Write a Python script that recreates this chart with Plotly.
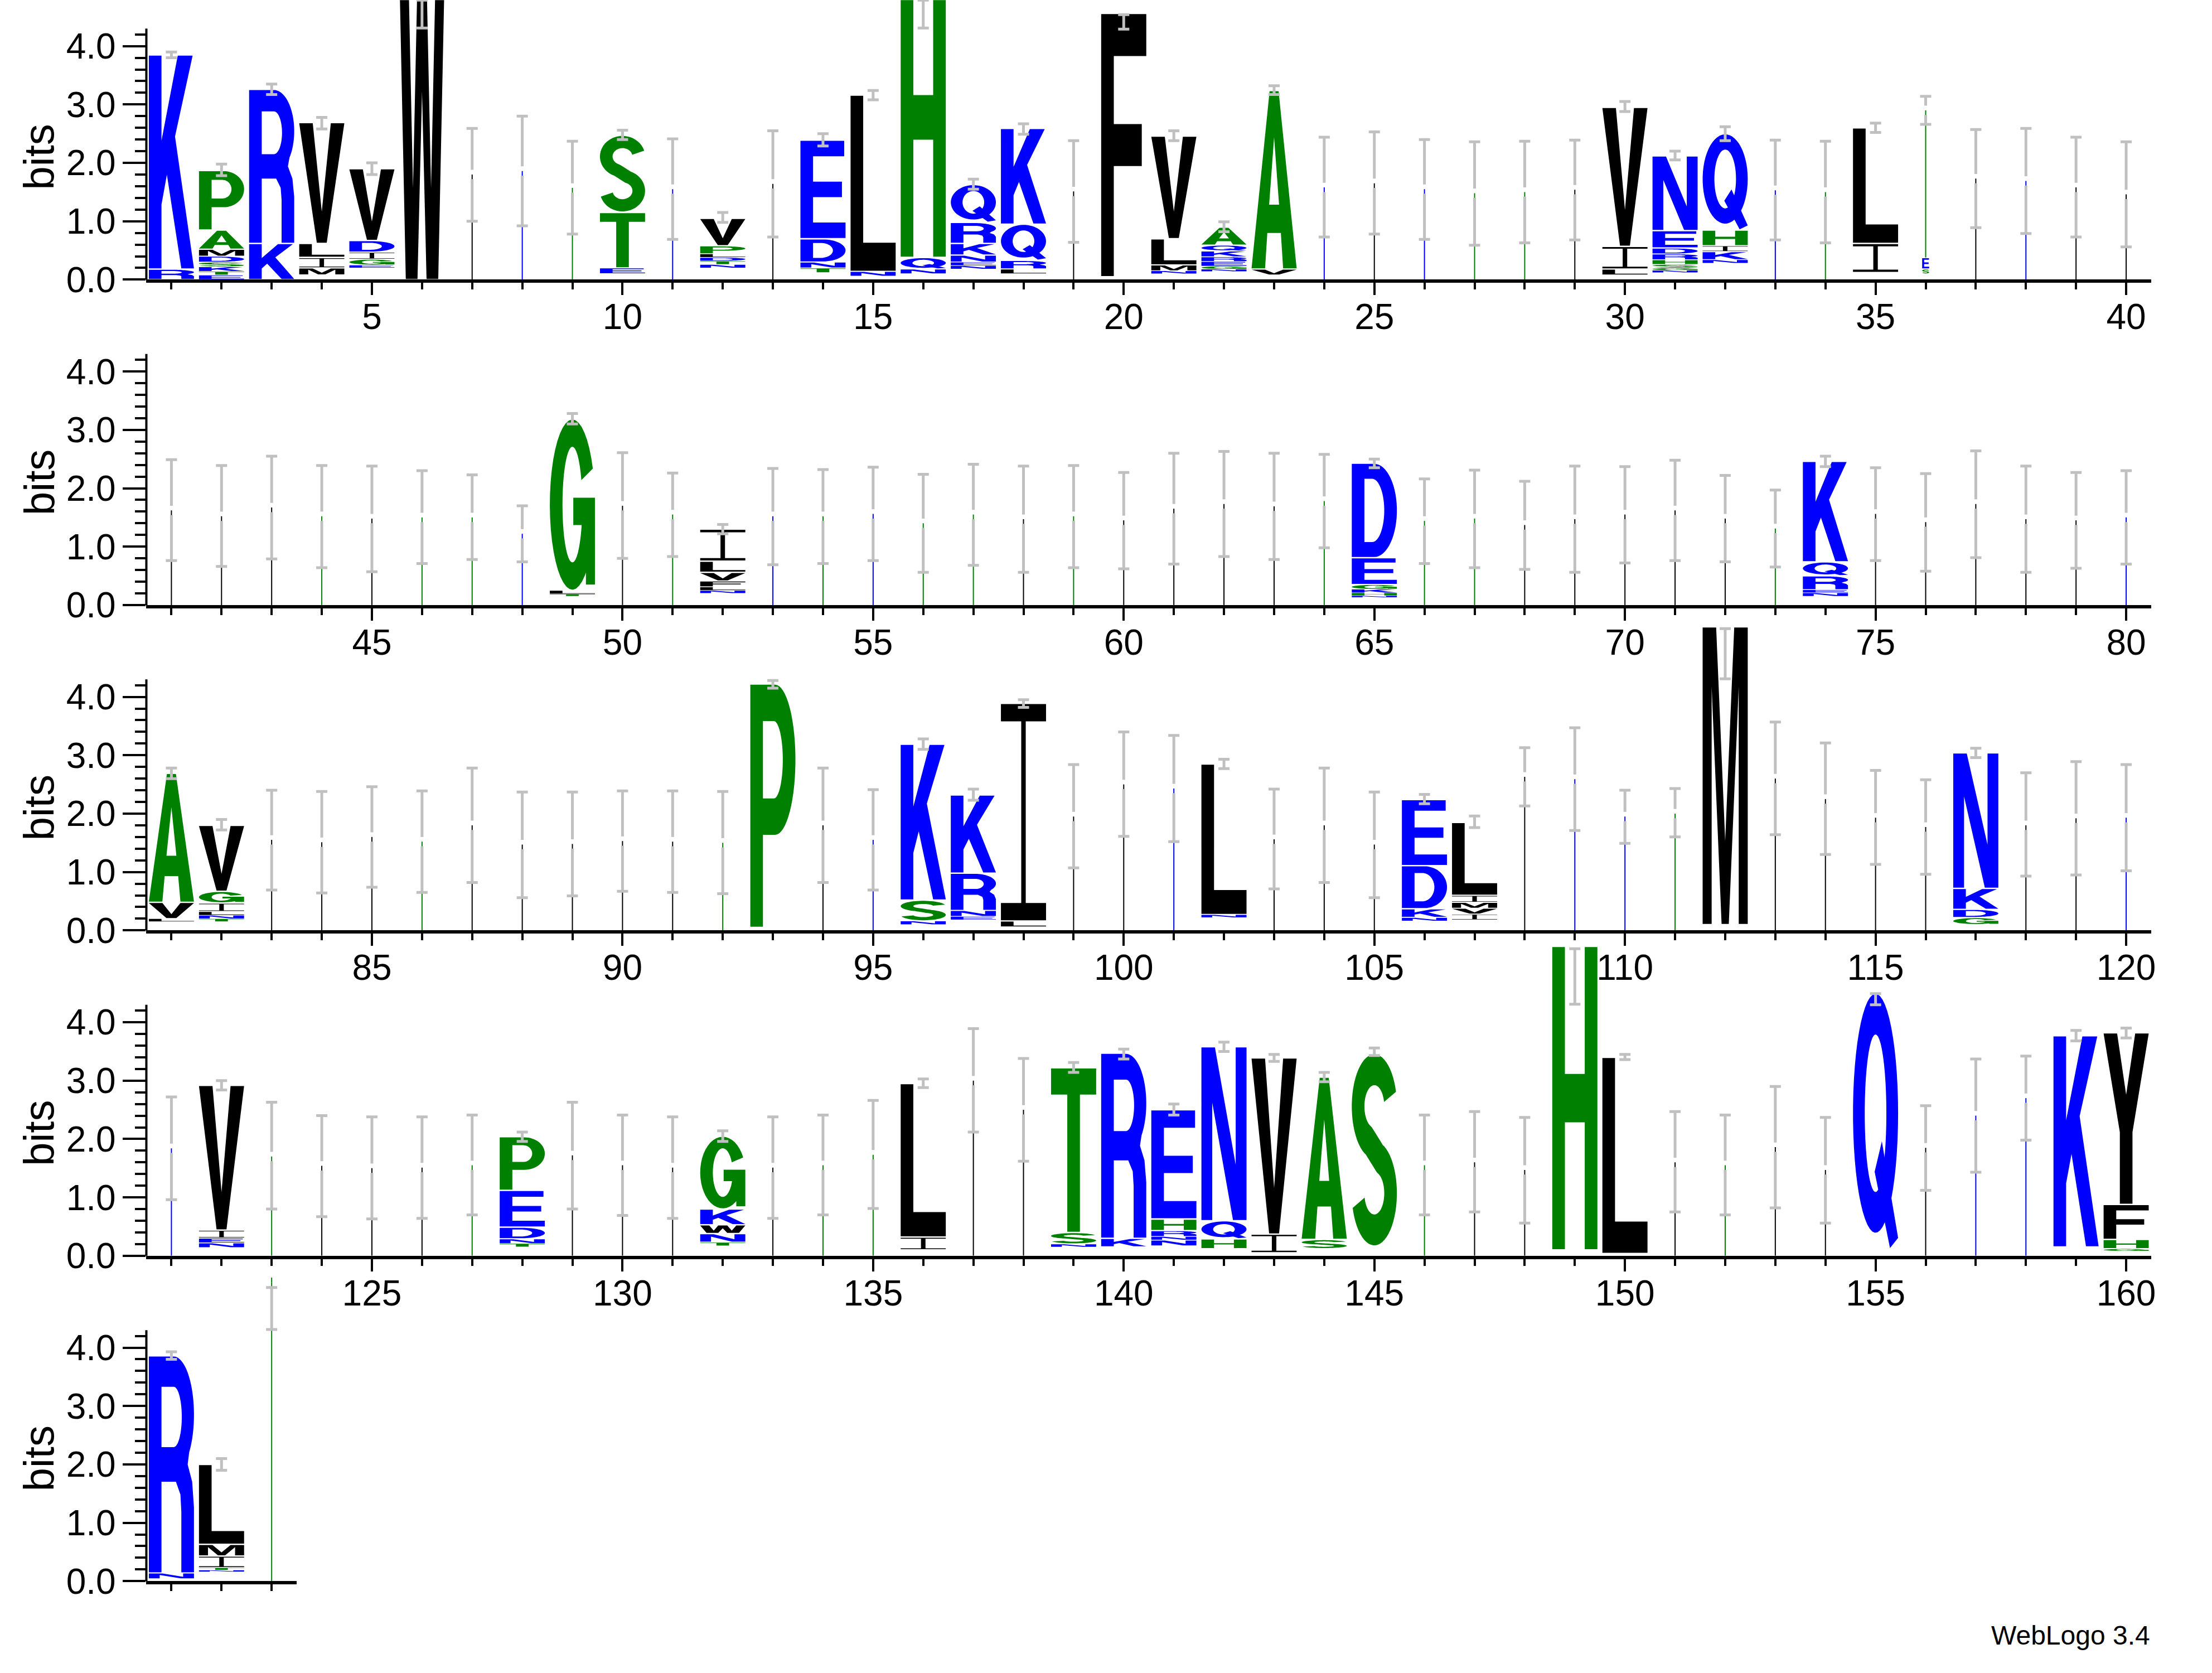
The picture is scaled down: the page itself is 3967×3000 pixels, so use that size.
import numpy as np
import plotly.graph_objects as go

# ---------------- data ----------------
# stack letters bottom -> top ('.' = blank space of tiny, invisible letters)
letters_r1 = ["RK", "ETKSDMAP", "KR", ".MILV", ".EGIDV", "W", "", "", "", ".ETS",
              "", ".NTDLPV", "", ".TNDE", ".NL", ".NQH", ".NENKRQ", ".LRQK", "", ".F",
              ".NMLV", ".NGERKQA", ".VA", "", "", "", "", "", "", ".LIV",
              ".NGSHRDEN", ".NKIHQ", "", "", ".IL", ".SE", "", "", "", ""]
heights_r1 = [[0.18, 3.67], [0.08, 0.06, 0.08, 0.08, 0.10, 0.12, 0.33, 1.02], [0.62, 2.64],
              [0.08, 0.12, 0.18, 0.24, 2.07], [0.2, 0.05, 0.1, 0.12, 0.2, 1.23], [5.2], [], [], [],
              [0.1, 0.1, 0.95, 1.33], [], [0.2, 0.06, 0.06, 0.06, 0.06, 0.14, 0.47], [],
              [0.12, 0.08, 0.1, 0.4, 1.69], [0.06, 0.08, 3.02], [0.1, 0.08, 0.2, 4.8],
              [0.18, 0.06, 0.06, 0.12, 0.2, 0.36, 0.65], [0.1, 0.08, 0.15, 0.62, 1.64], [],
              [0.05, 4.51], [0.1, 0.05, 0.1, 0.45, 1.76], [0.14, 0.04, 0.05, 0.08, 0.08, 0.1, 0.1, 0.31],
              [0.08, 0.1, 3.06], [], [], [], [], [], [], [0.08, 0.1, 0.39, 2.38],
              [0.12, 0.04, 0.04, 0.06, 0.08, 0.1, 0.1, 0.3, 1.28], [0.28, 0.06, 0.14, 0.1, 0.27, 1.65],
              [], [], [0.12, 0.5, 1.98], [0.1, 0.08, 0.2], [], [], [], []]
thincol_r1 = "......kbg.b.k.....k....bkbggk...bg.gkbkk"
thinh_r1 = [0, 0, 0, 0, 0, 0, 1.8, 1.86, 1.57, 0, 1.55, 0, 1.64, 0, 0, 0, 0, 0, 1.51, 0,
            0, 0, 0, 1.58, 1.65, 1.55, 1.48, 1.5, 1.54, 0, 0, 0, 1.53, 1.5, 0, 2.9, 1.73, 1.69, 1.58, 1.46]
errlo_r1 = [3.80, 1.78, 3.17, 2.58, 1.80, 4.31, 1.00, 0.92, 0.78, 2.40, 0.69, 0.98, 0.73, 2.29, 3.08,
            4.31, 1.55, 2.49, 0.64, 4.29, 2.38, 0.82, 3.17, 0.73, 0.78, 0.69, 0.59, 0.63, 0.68, 2.88,
            2.05, 2.38, 0.68, 0.63, 2.52, 2.66, 0.89, 0.79, 0.73, 0.56]
errhi_r1 = [3.90, 1.98, 3.35, 2.78, 2.00, 5.20, 2.59, 2.80, 2.37, 2.56, 2.41, 1.15, 2.55, 2.50, 3.24,
            5.20, 1.72, 2.67, 2.38, 4.54, 2.55, 0.99, 3.32, 2.44, 2.53, 2.40, 2.36, 2.37, 2.39, 3.05,
            2.20, 2.62, 2.39, 2.37, 2.68, 3.14, 2.57, 2.59, 2.44, 2.36]

letters_r2 = ["", "", "", "", "", "", "", "", ".TLG", "", "", ".NLFVLI", "", "", "", "", "", "", "", "",
              "", "", "", "", ".NHKGED", "", "", "", "", "", "", "", "", ".NERQK", "", "", "", "", "", ""]
heights_r2 = [[]] * 8 + [[0.15, 0.04, 0.06, 2.94], [], [], [0.2, 0.05, 0.06, 0.1, 0.15, 0.19, 0.55]] + \
             [[]] * 12 + [[0.13, 0.03, 0.05, 0.06, 0.08, 0.46, 1.62]] + [[]] * 8 + \
             [[0.15, 0.06, 0.05, 0.24, 0.24, 1.72]] + [[]] * 6
thincol_r2 = "kkkgkggb.kg.bgbggkgkkkkg.ggkkkkkg.kkkkkb"
thinh_r2 = [1.62, 1.52, 1.67, 1.52, 1.48, 1.5, 1.5, 1.22, 0, 1.7, 1.55, 0, 1.52, 1.52, 1.56, 1.4, 1.55,
            1.47, 1.52, 1.45, 1.65, 1.73, 1.69, 1.78, 0, 1.44, 1.48, 1.37, 1.47, 1.55, 1.62, 1.48, 1.31,
            0, 1.56, 1.42, 1.73, 1.47, 1.45, 1.5]
errlo_r2 = [0.76, 0.66, 0.79, 0.64, 0.57, 0.71, 0.78, 0.74, 3.1, 0.8, 0.83, 1.22, 0.69, 0.71, 0.76, 0.56,
            0.68, 0.56, 0.64, 0.62, 0.7, 0.83, 0.78, 0.98, 2.35, 0.71, 0.64, 0.61, 0.56, 0.72, 0.76, 0.74,
            0.65, 2.37, 0.76, 0.58, 0.81, 0.56, 0.63, 0.7]
errhi_r2 = [2.49, 2.39, 2.55, 2.39, 2.38, 2.3, 2.23, 1.7, 3.28, 2.61, 2.26, 1.38, 2.34, 2.32, 2.36, 2.24,
            2.41, 2.38, 2.39, 2.27, 2.6, 2.63, 2.6, 2.58, 2.5, 2.16, 2.31, 2.12, 2.38, 2.37, 2.48, 2.22,
            1.97, 2.55, 2.35, 2.25, 2.64, 2.38, 2.27, 2.3]

letters_r3 = [".LVA", ".TNLIGV", "", "", "", "", "", "", "", "", "", "", ".P", "", "", ".NSK", ".ENRK",
              ".LI", "", "", "", ".NL", "", "", "", ".NKDE", ".IVMIL", "", "", "", "", ".M", "", "", "",
              "", ".GDKN", "", "", ""]
heights_r3 = [[0.15, 0.05, 0.28, 2.21], [0.15, 0.05, 0.06, 0.06, 0.15, 0.2, 1.13]] + [[]] * 10 + \
             [[0.05, 4.17], [], [], [0.1, 0.06, 0.36, 2.67], [0.18, 0.06, 0.1, 0.64, 1.34],
              [0.06, 0.1, 3.73], [], [], [], [0.22, 0.05, 2.58], [], [], [],
              [0.16, 0.06, 0.15, 0.74, 1.13], [0.18, 0.1, 0.1, 0.1, 0.12, 1.25], [], [], [], [],
              [0.1, 5.1], [], [], [], [], [0.1, 0.12, 0.14, 0.36, 2.32], [], [], []]
thincol_r3 = "..kkkgkkkkkg.kb...kkb.kkk..kbbg.kkkk.kkb"
thinh_r3 = [0, 0, 1.55, 1.51, 1.6, 1.52, 1.8, 1.47, 1.48, 1.53, 1.52, 1.5, 0, 1.8, 1.55, 0, 0, 0, 1.95,
            2.5, 2.43, 0, 1.56, 1.8, 1.47, 0, 0, 2.63, 2.59, 1.95, 2.0, 0, 2.6, 2.25, 1.93, 1.77, 0, 1.8,
            1.92, 1.93]
errlo_r3 = [2.6, 1.72, 0.69, 0.64, 0.74, 0.65, 0.82, 0.56, 0.59, 0.67, 0.65, 0.63, 4.15, 0.82, 0.69, 3.1,
            2.23, 3.82, 1.07, 1.61, 1.52, 2.77, 0.71, 0.82, 0.56, 2.17, 1.76, 2.13, 1.71, 1.49, 1.6, 4.31,
            1.64, 1.3, 1.13, 0.96, 2.96, 0.93, 0.95, 1.02]
errhi_r3 = [2.78, 1.9, 2.4, 2.38, 2.46, 2.39, 2.78, 2.37, 2.37, 2.39, 2.39, 2.38, 4.28, 2.78, 2.41, 3.28,
            2.42, 3.95, 2.84, 3.4, 3.34, 2.93, 2.42, 2.78, 2.37, 2.33, 1.96, 3.13, 3.47, 2.4, 2.43, 5.17,
            3.57, 3.21, 2.74, 2.58, 3.12, 2.7, 2.89, 2.84]

letters_r4 = ["", ".NEIV", "", "", "", "", "", ".TNDEP", "", "", "", ".TNWKG", "", "", "", ".IL", "", "",
              ".NST", ".KR", ".NNRHE", ".HQN", ".IV", ".SA", ".S", "", "", "", ".H", ".L", "", "", "",
              "", ".Q", "", "", "", ".K", ".GHFY"]
heights_r4 = [[], [0.14, 0.08, 0.08, 0.14, 2.48], [], [], [], [], [],
              [0.15, 0.06, 0.08, 0.2, 0.63, 0.92], [], [], [], [0.17, 0.06, 0.15, 0.15, 0.27, 1.25],
              [], [], [], [0.1, 0.22, 2.63], [], [], [0.15, 0.05, 0.2, 2.82], [0.15, 0.15, 3.17],
              [0.17, 0.1, 0.06, 0.1, 0.2, 1.87], [0.12, 0.17, 0.31, 2.98], [0.05, 0.32, 3.02],
              [0.12, 0.16, 2.78], [0.15, 3.33], [], [], [], [0.1, 5.2], [0.04, 3.36], [], [], [], [],
              [0.12, 4.38], [], [], [], [0.15, 3.62], [0.08, 0.04, 0.16, 0.6, 2.94]]
thincol_r4 = "b.gkkkg.kkk.kgg.kk.......gkk..kgkk.kbb.."
thinh_r4 = [1.84, 0, 1.7, 1.54, 1.5, 1.51, 1.55, 0, 1.72, 1.55, 1.51, 0, 1.51, 1.55, 1.73, 0, 3.0, 2.5,
            0, 0, 0, 0, 0, 0, 0, 1.55, 1.6, 1.47, 0, 0, 1.6, 1.55, 1.86, 1.47, 0, 1.85, 2.4, 2.7, 0, 0]
errlo_r4 = [0.96, 2.84, 0.8, 0.67, 0.63, 0.64, 0.7, 1.96, 0.8, 0.69, 0.64, 1.96, 0.64, 0.7, 0.81, 2.88,
            2.12, 1.62, 3.14, 3.37, 2.41, 3.5, 3.33, 2.98, 3.43, 0.7, 0.75, 0.56, 4.31, 3.36, 0.75, 0.7,
            0.82, 0.56, 4.3, 1.12, 1.43, 1.98, 3.68, 3.73]
errhi_r4 = [2.72, 3.0, 2.63, 2.4, 2.38, 2.38, 2.41, 2.12, 2.63, 2.41, 2.38, 2.14, 2.38, 2.41, 2.66, 3.03,
            3.89, 3.38, 3.31, 3.54, 2.6, 3.66, 3.45, 3.14, 3.56, 2.41, 2.47, 2.37, 5.26, 3.45, 2.47, 2.41,
            2.9, 2.37, 4.49, 2.57, 3.37, 3.42, 3.86, 3.9]

letters_r5 = [".NR", ".NTIML", ""]
heights_r5 = [[0.04, 0.1, 3.72], [0.16, 0.03, 0.04, 0.2, 0.2, 1.37], []]
thincol_r5 = "..g"
thinh_r5 = [0, 0, 5.2]
errlo_r5 = [3.8, 1.9, 4.31]
errhi_r5 = [3.93, 2.1, 5.03]

narrow_positions = [36]          # columns whose letters are squeezed to a sliver
row_first = [1, 41, 81, 121, 161]
row_last = [40, 80, 120, 160, 163]
ytick_vals = [0, 1, 2, 3, 4]
ytick_text = ["0.0", "1.0", "2.0", "3.0", "4.0"]

ROWS = [
    (letters_r1, heights_r1, thincol_r1, thinh_r1, errlo_r1, errhi_r1),
    (letters_r2, heights_r2, thincol_r2, thinh_r2, errlo_r2, errhi_r2),
    (letters_r3, heights_r3, thincol_r3, thinh_r3, errlo_r3, errhi_r3),
    (letters_r4, heights_r4, thincol_r4, thinh_r4, errlo_r4, errhi_r4),
    (letters_r5, heights_r5, thincol_r5, thinh_r5, errlo_r5, errhi_r5),
]

# ---------------- styling ----------------
BLUE, GREEN, BLACK = "#0000FF", "#008000", "#000000"
COLOR = {}
for c in "KREDQN":
    COLOR[c] = BLUE
for c in "PASTHGC":
    COLOR[c] = GREEN
for c in "VWLFIMY":
    COLOR[c] = BLACK
THIN = {"k": BLACK, "g": GREEN, "b": BLUE}
FONT = "Liberation Sans, Arial, Helvetica, sans-serif"
ERRC = "#C0C0C0"

W, H = 3967, 3000
# the photographed page comes out ~1.3 % shorter vertically: pre-compensate layout positions
VSCALE = 1 / 0.9872
X0PX, PXPOS = 263.0, 90.07
Y0PX = [v * VSCALE for v in (501, 1084, 1667, 2250, 2833)]
PXBIT = 104.6 * VSCALE
TOPBITS = 5.55

# ---------------- glyph outlines (unit box) ----------------
SW, BH = 0.28, 0.16


def arc(cx, cy, rx, ry, a0, a1, n=32):
    t = np.radians(np.linspace(a0, a1, n))
    return [(cx + rx * np.cos(a), cy + ry * np.sin(a)) for a in t]


def ring(rxo, ryo, rxi, ryi, a0, a1, n=40):
    return arc(0.5, 0.5, rxo, ryo, a0, a1, n) + arc(0.5, 0.5, rxi, ryi, a1, a0, n)


def stroke(center, wx, wy):
    p = np.array(center) / np.array([wx, wy])
    d = np.gradient(p, axis=0)
    nrm = np.stack([-d[:, 1], d[:, 0]], 1)
    nrm /= np.linalg.norm(nrm, axis=1)[:, None]
    a = (p + nrm) * [wx, wy]
    b = (p - nrm) * [wx, wy]
    return [tuple(q) for q in a] + [tuple(q) for q in b[::-1]]


def s_glyph():
    up = arc(0.5, 0.725, 0.36, 0.19, 15, 250, 40)
    lo = arc(0.5, 0.275, 0.36, 0.19, 70, -165, 40)
    sp = [(up[-1][0] + (lo[0][0] - up[-1][0]) * t, up[-1][1] + (lo[0][1] - up[-1][1]) * t)
          for t in np.linspace(0, 1, 8)[1:-1]]
    return stroke(up + sp + lo, 0.14, 0.08)


GLYPHS = {
    "E": dict(fill=[[(0, 0), (1, 0), (1, BH), (SW, BH), (SW, 0.42), (0.92, 0.42), (0.92, 0.58), (SW, 0.58),
                     (SW, 1 - BH), (0.97, 1 - BH), (0.97, 1), (0, 1)]]),
    "F": dict(fill=[[(0, 0), (SW, 0), (SW, 0.42), (0.9, 0.42), (0.9, 0.58), (SW, 0.58), (SW, 1 - BH),
                     (1, 1 - BH), (1, 1), (0, 1)]]),
    "L": dict(fill=[[(0, 0), (1, 0), (1, BH), (SW, BH), (SW, 1), (0, 1)]]),
    "T": dict(fill=[[(0.5 - SW / 2, 0), (0.5 + SW / 2, 0), (0.5 + SW / 2, 1 - BH), (1, 1 - BH), (1, 1),
                     (0, 1), (0, 1 - BH), (0.5 - SW / 2, 1 - BH)]]),
    "I": dict(fill=[[(0, 0), (1, 0), (1, 0.08), (0.55, 0.08), (0.55, 0.92), (1, 0.92), (1, 1), (0, 1),
                     (0, 0.92), (0.45, 0.92), (0.45, 0.08), (0, 0.08)]]),
    "H": dict(fill=[[(0, 0), (SW, 0), (SW, 0.42), (1 - SW, 0.42), (1 - SW, 0), (1, 0), (1, 1), (1 - SW, 1),
                     (1 - SW, 0.58), (SW, 0.58), (SW, 1), (0, 1)]]),
    "K": dict(fill=[[(0, 0), (SW, 0), (SW, 0.3), (0.4, 0.44), (0.72, 0), (1, 0), (0.58, 0.62), (0.97, 1),
                     (0.64, 1), (SW, 0.6), (SW, 1), (0, 1)]]),
    "V": dict(fill=[[(0, 1), (0.3, 1), (0.5, 0.26), (0.7, 1), (1, 1), (0.61, 0), (0.39, 0)]]),
    "W": dict(fill=[[(0, 1), (0.2, 1), (0.3, 0.3), (0.4, 1), (0.6, 1), (0.7, 0.3), (0.8, 1), (1, 1),
                     (0.86, 0), (0.6, 0), (0.5, 0.62), (0.4, 0), (0.14, 0)]]),
    "M": dict(fill=[[(0, 0), (0.2, 0), (0.2, 0.8), (0.42, 0), (0.58, 0), (0.8, 0.8), (0.8, 0), (1, 0),
                     (1, 1), (0.7, 1), (0.5, 0.28), (0.3, 1), (0, 1)]]),
    "N": dict(fill=[[(0, 0), (0.24, 0), (0.24, 0.68), (0.7, 0), (1, 0), (1, 1), (0.76, 1), (0.76, 0.32),
                     (0.3, 1), (0, 1)]]),
    "Y": dict(fill=[[(0, 1), (0.3, 1), (0.5, 0.64), (0.7, 1), (1, 1), (0.64, 0.42), (0.64, 0), (0.36, 0),
                     (0.36, 0.42)]]),
    "A": dict(fill=[[(0, 0), (0.3, 0), (0.35, 0.2), (0.65, 0.2), (0.7, 0), (1, 0), (0.6, 1), (0.4, 1)]],
              holes=[[(0.39, 0.36), (0.61, 0.36), (0.5, 0.74)]]),
    "D": dict(fill=[[(0, 0), (0.5, 0)] + arc(0.5, 0.5, 0.5, 0.5, -90, 90) + [(0, 1)]],
              holes=[[(SW, BH), (0.45, BH)] + arc(0.45, 0.5, 0.27, 0.5 - BH, -90, 90) + [(SW, 1 - BH)]]),
    "P": dict(fill=[[(0, 0), (SW, 0), (SW, 0.38), (0.55, 0.38)] + arc(0.55, 0.69, 0.45, 0.31, -90, 90) + [(0, 1)]],
              holes=[[(SW, 0.53), (0.52, 0.53)] + arc(0.52, 0.69, 0.2, 0.16, -90, 90) + [(SW, 0.85)]]),
    "R": dict(fill=[[(0, 0), (SW, 0), (SW, 0.42), (0.6, 0.42), (0.7, 0.36), (0.72, 0.28), (0.72, 0), (1, 0),
                     (1, 0.3), (0.96, 0.42), (0.86, 0.5)] + arc(0.55, 0.73, 0.45, 0.27, -40, 90) + [(0, 1)]],
              holes=[[(SW, 0.58), (0.55, 0.58)] + arc(0.55, 0.72, 0.18, 0.14, -90, 90) + [(SW, 0.86)]]),
    "Q": dict(fill=[arc(0.5, 0.53, 0.5, 0.47, 0, 360, 56)],
              holes=[arc(0.5, 0.53, 0.24, 0.31, 0, 360, 48)],
              over=[[(0.48, 0.3), (0.64, 0.42), (1.0, 0.04), (0.82, 0.0)]]),
    "G": dict(fill=[ring(0.5, 0.5, 0.22, 0.34, 25, 345),
                    [(0.52, 0.38), (1, 0.38), (1, 0.54), (0.52, 0.54)],
                    [(0.8, 0.03), (1, 0.03), (1, 0.54), (0.8, 0.54)]]),
    "C": dict(fill=[ring(0.5, 0.5, 0.22, 0.34, 40, 320)]),
    "S": dict(fill=[s_glyph()]),
}


def ccw(poly):
    a = np.array(poly, dtype=float)
    area = 0.5 * np.sum(a[:, 0] * np.roll(a[:, 1], -1) - np.roll(a[:, 0], -1) * a[:, 1])
    return poly if area >= 0 else poly[::-1]


def clip_top(poly, ymax):
    """Clip a polygon to the half-plane y <= ymax (keeps drawing inside the panel)."""
    out = []
    n = len(poly)
    for i in range(n):
        cur, prev = poly[i], poly[i - 1]
        cin, pin = cur[1] <= ymax, prev[1] <= ymax
        if cin != pin:
            t = (ymax - prev[1]) / (cur[1] - prev[1])
            out.append((prev[0] + t * (cur[0] - prev[0]), ymax))
        if cin:
            out.append(cur)
    return out


def put(store, poly, x0, x1, y0, y1, ymax):
    pts = [(x0 + gx * (x1 - x0), y0 + gy * (y1 - y0)) for gx, gy in ccw(poly)]
    pts = clip_top(pts, ymax)
    if len(pts) < 3:
        return
    for px, py in pts:
        store[0].append(px)
        store[1].append(py)
    store[0].append(None)
    store[1].append(None)


def fill_trace(store, color, xa, ya):
    return go.Scatter(x=store[0], y=store[1], mode="lines", fill="toself", fillcolor=color,
                      line=dict(width=0, color=color, simplify=False), hoverinfo="skip",
                      xaxis=xa, yaxis=ya)


# ---------------- build figure ----------------
fig = go.Figure()
layout = dict(width=W, height=H, margin=dict(l=0, r=0, t=0, b=0, pad=0), autosize=False,
              paper_bgcolor="white", plot_bgcolor="white", showlegend=False,
              shapes=[], annotations=[])

for r, (lets, hts, tcol, th, elo, ehi) in enumerate(ROWS):
    xa = "x" if r == 0 else f"x{r + 1}"
    ya = "y" if r == 0 else f"y{r + 1}"
    lo, hi = row_first[r] - 0.5, row_last[r] + 0.5
    xd = [X0PX / W, (X0PX + (hi - lo) * PXPOS) / W]
    y0px = Y0PX[r]
    toppx = max(y0px - TOPBITS * PXBIT, 0)
    yd = [1 - y0px / H, 1 - toppx / H]
    yr = [0, (y0px - toppx) / PXBIT]
    ymax = yr[1] - 0.002

    fills = {c: ([], []) for c in (BLACK, GREEN, BLUE)}
    overs = {c: ([], []) for c in (BLACK, GREEN, BLUE)}
    holes = ([], [])
    thin = {c: ([], []) for c in (BLACK, GREEN, BLUE)}
    tops = {c: ([], []) for c in (BLACK, GREEN, BLUE)}
    gaps = ([], [])
    ex, emid, ehalf = [], [], []
    for k, p in enumerate(range(row_first[r], row_last[r] + 1)):
        y = 0.0
        half = 0.07 if p in narrow_positions else 0.45
        for ch, h in zip(lets[k], hts[k]):
            if ch != ".":
                g = GLYPHS[ch]
                col = COLOR[ch]
                ins = min(0.012, 0.08 * h)
                x0, x1, y0, y1 = p - half, p + half, y + ins, y + h - ins
                for poly in g["fill"]:
                    put(fills[col], poly, x0, x1, y0, y1, ymax)
                for poly in g.get("holes", []):
                    put(holes, poly, x0, x1, y0, y1, ymax)
                for poly in g.get("over", []):
                    put(overs[col], poly, x0, x1, y0, y1, ymax)
            y += h
        if th[k] > 0:
            c = THIN[tcol[k]]
            t_top = min(th[k], ymax)
            thin[c][0].extend([p, p, None])
            thin[c][1].extend([y, t_top, None])
            gaps[0].extend([p, p, None])
            gaps[1].extend([t_top - 0.08, min(t_top + 0.08, ymax), None])
            tops[c][0].extend([p, p, None])
            tops[c][1].extend([max(y, t_top - 0.08), t_top, None])
        e_hi = min(ehi[k], ymax)
        ex.append(p)
        emid.append((elo[k] + e_hi) / 2)
        ehalf.append((e_hi - elo[k]) / 2)

    for c, st in fills.items():
        if st[0]:
            fig.add_trace(fill_trace(st, c, xa, ya))
    if holes[0]:
        fig.add_trace(fill_trace(holes, "#FFFFFF", xa, ya))
    for c, st in overs.items():
        if st[0]:
            fig.add_trace(fill_trace(st, c, xa, ya))
    for c, (xs, ys) in thin.items():
        if xs:
            fig.add_trace(go.Scatter(x=xs, y=ys, mode="lines", line=dict(width=2, color=c),
                                     hoverinfo="skip", xaxis=xa, yaxis=ya))
    fig.add_trace(go.Scatter(x=ex, y=emid, mode="markers", marker=dict(size=2, color="rgba(0,0,0,0)"),
                             error_y=dict(type="data", array=ehalf, symmetric=True, visible=True,
                                          color=ERRC, thickness=5, width=10),
                             hoverinfo="skip", xaxis=xa, yaxis=ya))
    if gaps[0]:
        fig.add_trace(go.Scatter(x=gaps[0], y=gaps[1], mode="lines", line=dict(width=7, color="#FFFFFF"),
                                 hoverinfo="skip", xaxis=xa, yaxis=ya))
    for c, (xs, ys) in tops.items():
        if xs:
            fig.add_trace(go.Scatter(x=xs, y=ys, mode="lines", line=dict(width=2, color=c),
                                     hoverinfo="skip", xaxis=xa, yaxis=ya))

    major = [p for p in range(row_first[r], row_last[r] + 1) if p % 5 == 0]
    minor = [p for p in range(row_first[r], row_last[r] + 1) if p % 5 != 0]
    layout["xaxis" if r == 0 else f"xaxis{r + 1}"] = dict(
        domain=xd, range=[lo, hi], anchor=ya, showline=True, linecolor="black", linewidth=6,
        ticks="outside", tickmode="array", tickvals=major, ticktext=[str(v) for v in major],
        ticklen=22, tickwidth=4, tickcolor="black", ticklabelstandoff=-16,
        minor=dict(tickmode="array", tickvals=minor, ticks="outside", ticklen=12, tickwidth=4,
                   tickcolor="black"),
        showgrid=False, zeroline=False, tickfont=dict(family=FONT, size=64, color="black"),
        fixedrange=True)
    layout["yaxis" if r == 0 else f"yaxis{r + 1}"] = dict(
        domain=yd, range=yr, anchor=xa, showline=False, ticks="outside", tickmode="array",
        tickvals=ytick_vals, ticktext=ytick_text, ticklen=41, tickwidth=4, tickcolor="black",
        minor=dict(tickmode="array", tickvals=[round(v * 0.2, 1) for v in range(1, 22) if v % 5 != 0],
                   ticks="outside", ticklen=19, tickwidth=4, tickcolor="black"),
        showgrid=False, zeroline=False, tickfont=dict(family=FONT, size=64, color="black"),
        fixedrange=True)
    layout["shapes"].append(dict(type="line", xref=f"{xa} domain", x0=0, x1=0, yref=ya, y0=-0.02, y1=4.3,
                                 line=dict(color="black", width=4)))
    layout["annotations"].append(dict(text="bits", xref="paper", x=70 / W, yref=ya, y=2.1,
                                      textangle=-90, showarrow=False, xanchor="center", yanchor="middle",
                                      font=dict(family=FONT, size=76, color="black")))

layout["annotations"].append(dict(text="WebLogo 3.4", xref="paper", yref="paper", x=3866 / W,
                                  y=0.001, xanchor="right", yanchor="bottom", showarrow=False,
                                  font=dict(family=FONT, size=48, color="black")))
fig.update_layout(**layout)
fig.write_html("out.html", config={"displayModeBar": False},
               post_script="document.body.style.margin='0px';document.body.style.overflow='hidden';")
